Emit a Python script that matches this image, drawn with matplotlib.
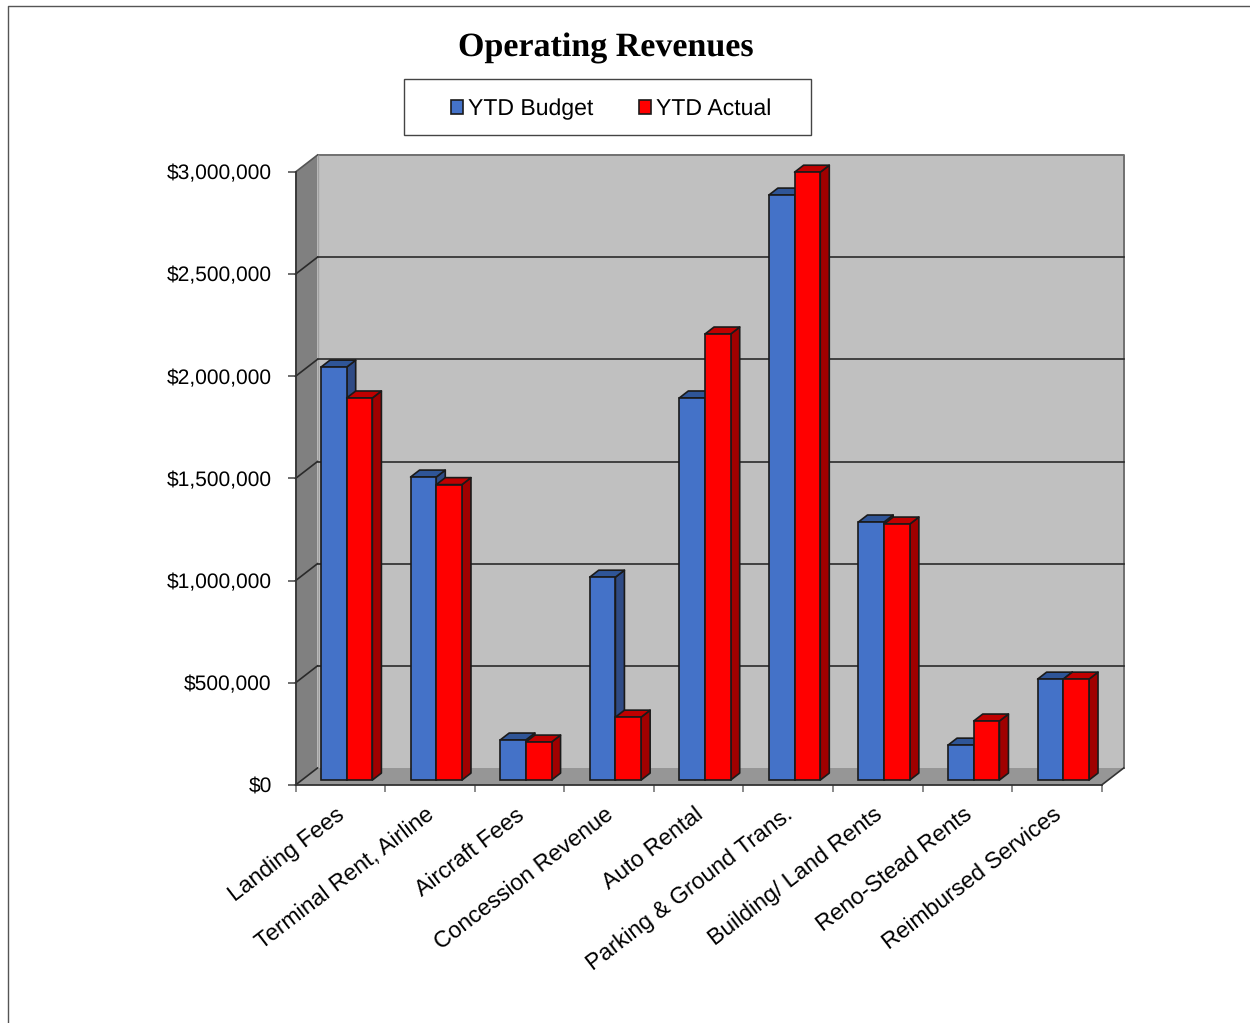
import matplotlib
matplotlib.use('Agg')
import matplotlib.pyplot as plt
from matplotlib.lines import Line2D
from matplotlib.patches import Patch, Polygon, Rectangle
import numpy as np

categories = ['Landing Fees', 'Terminal Rent, Airline', 'Aircraft Fees', 'Concession Revenue',
              'Auto Rental', 'Parking & Ground Trans.', 'Building/ Land Rents',
              'Reno-Stead Rents', 'Reimbursed Services']
ytd_budget = [2021000, 1483000, 196000, 993000, 1870000, 2863000, 1263000, 171000, 494000]
ytd_actual = [1870000, 1446000, 186000, 308000, 2183000, 2975000, 1253000, 289000, 494000]
y_ticks = [0, 500000, 1000000, 1500000, 2000000, 2500000, 3000000]

W, H = 1250, 1023
LEFT, RIGHT, TOP, BOTTOM = 295.5, 1101.7, 172.0, 785.0
YMAX = 3000000

px_x = 9 / (RIGHT - LEFT)
px_y = YMAX / (BOTTOM - TOP)

# depth of the chart box, in data units
DEPTH_X = 22 * px_x
DEPTH_Y = 17 * px_y
# bars sit between these fractions of the box depth
BAR_FRONT = 0.29
BAR_BACK = 0.70
BAR_WIDTH = 25.7 * px_x

plt.rcParams['font.family'] = ['Liberation Sans', 'DejaVu Sans']
plt.rcParams['text.hinting'] = 'no_hinting'
plt.rcParams['text.hinting_factor'] = 1

fig = plt.figure(figsize=(W / 100, H / 100), dpi=100, facecolor='white')
ax = fig.add_axes([LEFT / W, 1 - BOTTOM / H, (RIGHT - LEFT) / W, (BOTTOM - TOP) / H])
ax.patch.set_alpha(0)
ax.set_xlim(0, 9)
ax.set_ylim(0, YMAX)


def face(points, color, edge='#1a1a1a', lw=1.2, z=3):
    ax.add_patch(Polygon(points, closed=True, facecolor=color, edgecolor=edge, linewidth=lw,
                         zorder=z, clip_on=False, joinstyle='round'))


# back wall, side wall and floor
face([(DEPTH_X, DEPTH_Y), (9 + DEPTH_X, DEPTH_Y), (9 + DEPTH_X, YMAX + DEPTH_Y), (DEPTH_X, YMAX + DEPTH_Y)],
     '#c0c0c0', edge='none', lw=0, z=1)
face([(0, 0), (DEPTH_X, DEPTH_Y), (DEPTH_X, YMAX + DEPTH_Y), (0, YMAX)], '#808080', edge='none', lw=0, z=1)
face([(0, 0), (9, 0), (9 + DEPTH_X, DEPTH_Y), (DEPTH_X, DEPTH_Y)], '#969696', edge='none', lw=0, z=1)

ax.plot([DEPTH_X, 9 + DEPTH_X, 9 + DEPTH_X], [YMAX + DEPTH_Y, YMAX + DEPTH_Y, DEPTH_Y],
        color='#707070', lw=1.4, zorder=2, clip_on=False)
ax.plot([DEPTH_X, DEPTH_X], [DEPTH_Y, YMAX + DEPTH_Y], color='#a0a0a0', lw=1.0, zorder=2, clip_on=False)
ax.plot([0, DEPTH_X], [YMAX, YMAX + DEPTH_Y], color='#555555', lw=1.2, zorder=2, clip_on=False)
ax.plot([9, 9 + DEPTH_X], [0, DEPTH_Y], color='#333333', lw=1.2, zorder=2, clip_on=False)

# gridlines wrap around from the side wall onto the back wall
for t in y_ticks[:-1]:
    ax.plot([0, DEPTH_X], [t, t + DEPTH_Y], color='#2a2a2a', lw=1.2, zorder=2, clip_on=False)
    if t > 0:
        ax.plot([DEPTH_X, 9 + DEPTH_X], [t + DEPTH_Y, t + DEPTH_Y], color='#2a2a2a', lw=1.2, zorder=2,
                clip_on=False)


def draw_bars(left_edges, values, front, side, top, z):
    dx0, dy0 = BAR_FRONT * DEPTH_X, BAR_FRONT * DEPTH_Y
    dx1, dy1 = BAR_BACK * DEPTH_X, BAR_BACK * DEPTH_Y
    for x0, v in zip(left_edges, values):
        x_l, x_r = x0 + dx0, x0 + dx0 + BAR_WIDTH
        x_lb, x_rb = x0 + dx1, x0 + dx1 + BAR_WIDTH
        face([(x_r, dy0), (x_rb, dy1), (x_rb, v + dy1), (x_r, v + dy0)], side, z=z)
        face([(x_l, v + dy0), (x_r, v + dy0), (x_rb, v + dy1), (x_lb, v + dy1)], top, z=z)
        ax.bar(x_l, v, BAR_WIDTH, bottom=dy0, align='edge', color=front, edgecolor='#1a1a1a',
               linewidth=1.2, zorder=z + 0.5, clip_on=False)


centers = np.arange(len(categories)) + 0.5
draw_bars(centers - BAR_WIDTH, ytd_budget, '#4472c8', '#2f4b85', '#2f5597', 3)
draw_bars(centers, ytd_actual, '#ff0000', '#a00000', '#c00000', 4)

# axes, ticks and labels
for name in ['top', 'right']:
    ax.spines[name].set_visible(False)
for name in ['left', 'bottom']:
    ax.spines[name].set_color('#333333')
    ax.spines[name].set_linewidth(1.3)
    ax.spines[name].set_zorder(6)

ax.set_yticks(y_ticks)
ax.set_yticklabels([f'${t:,}' for t in y_ticks], fontsize=15.45, color='black')
ax.tick_params(axis='y', length=5.5, width=1.2, color='#555555', pad=11.6)

ax.set_xticks(np.arange(10))
ax.set_xticklabels([])
ax.tick_params(axis='x', which='major', length=5, width=1.2, color='#777777')
# labels end a little left of the category centre
ax.set_xticks(centers - 4.5 * px_x, minor=True)
ax.set_xticklabels(categories, minor=True, rotation=37.5, ha='right', va='top', rotation_mode='anchor',
                   fontsize=16.4, color='black')
ax.tick_params(axis='x', which='minor', length=0, pad=13.5)

fig.text(605.5 / W, 1 - 48 / H, 'Operating Revenues', family='Liberation Serif', weight='bold',
         fontsize=24.8, ha='center', va='center', color='black')

# legend box
fig.add_artist(Rectangle((404 / W, 1 - 135.3 / H), 407 / W, 56 / H, transform=fig.transFigure,
                         facecolor='white', edgecolor='#444444', linewidth=1.0))
handles = [Patch(facecolor='#4472c8', edgecolor='#1a1a1a', linewidth=1.2),
           Patch(facecolor='#ff0000', edgecolor='#1a1a1a', linewidth=1.2)]
fig.legend(handles, ['YTD Budget', 'YTD Actual'], ncol=2, loc='center', bbox_to_anchor=(611.2 / W, 1 - 109 / H),
           frameon=False, fontsize=16.5, handlelength=0.52, handleheight=0.52, handletextpad=0.2,
           columnspacing=2.0, borderpad=0, borderaxespad=0)

# page border along the top and left edges
fig.add_artist(Line2D([8 / W, 8 / W, 1], [0, 1 - 6 / H, 1 - 6 / H], transform=fig.transFigure,
                      color='#555555', linewidth=1.0))

fig.savefig('out.png', dpi=100)
